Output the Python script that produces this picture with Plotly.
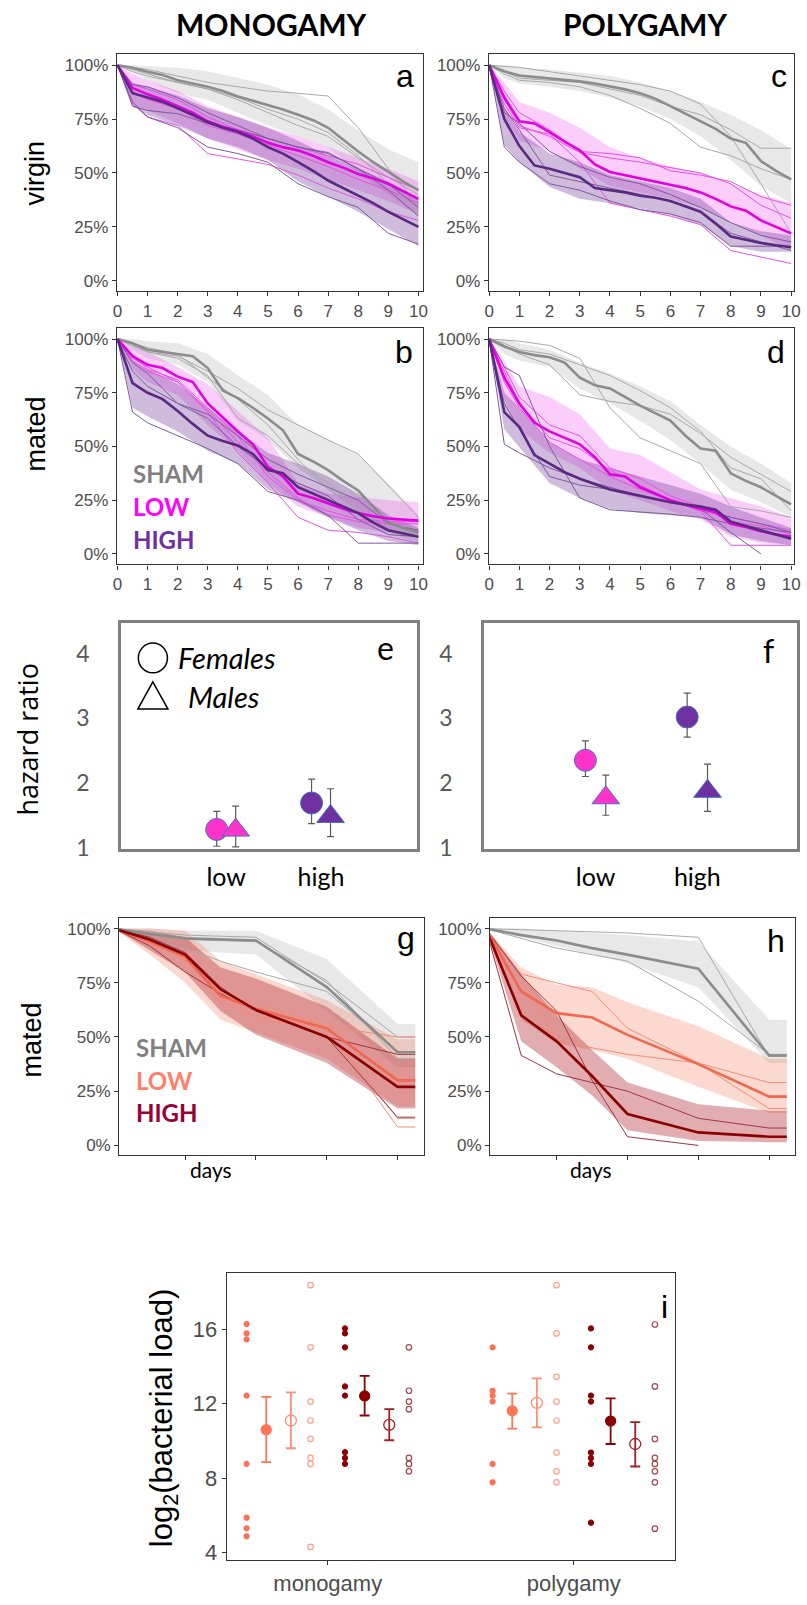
import plotly.graph_objects as go

W, H = 807, 1605

# ---------------- data ----------------
T_HALF = [0, 0.5, 1, 1.5, 2, 2.5, 3, 3.5, 4, 4.5, 5, 5.5, 6, 6.5, 7, 7.5, 8, 8.5, 9, 9.5, 10]
T_COARSE = [0, 0.5, 1, 2, 3, 4, 5, 6, 7, 8, 9, 10]
T_GH = [0, 0.5, 1, 1.5, 2, 3, 4, 4.25]

# panel a : monogamy, virgin
A_SHAM_MEAN = [100, 98.8, 97, 95.5, 93, 91.5, 90, 88, 85.5, 83.5, 81.5, 79.5, 77, 74.5, 71, 65.5, 60, 55, 50.5, 46, 42]
A_LOW_MEAN = [100, 89.5, 86.5, 84, 81, 78, 74, 71.5, 69.5, 67, 64, 62, 60.5, 58, 55, 52.5, 49.5, 47.5, 45, 41.5, 38]
A_HIGH_MEAN = [100, 87, 85, 83, 80, 77, 73.5, 71, 69, 66, 62, 59, 55, 51, 46.5, 43, 39.5, 36, 32, 28.5, 25]
A_SHAM_UP = [100, 100, 99.5, 98.8, 97.2, 94.2, 91, 86.5, 79.6, 69.6, 61, 55]
A_SHAM_LO = [100, 97, 93, 87, 84, 78, 72, 67, 62, 50, 40, 30]
A_LOW_UP = [100, 96, 93, 88, 81, 76, 71, 67, 62, 57, 52, 46]
A_LOW_LO = [100, 82, 79, 73, 66, 61, 56, 52, 47, 42, 37, 31]
A_HIGH_UP = [100, 92, 90, 86, 80, 76, 71, 65, 58, 52, 46, 38]
A_HIGH_LO = [100, 81, 77, 72, 66, 62, 56, 46, 39, 32, 24, 16]
A_SHAM_REPS = [[100, 99, 98, 95, 92, 90, 88, 87, 85.7, 71, 52, 35],
               [100, 98, 96, 92, 89, 85, 79.6, 75, 68.8, 58, 45, 33],
               [100, 97, 95, 92, 89, 84, 78, 72, 67, 57, 48, 40]]
A_LOW_REPS = [[100, 91, 89, 84, 76, 70, 66, 62, 58, 54, 48, 42],
              [100, 88, 84, 80, 72, 68, 63, 58, 53, 47, 42, 36],
              [100, 82, 76, 72, 59, 56.5, 54, 49, 43, 38, 32, 28]]
A_HIGH_REPS = [[100, 91, 90, 85, 78, 72, 66, 62, 59, 52, 45, 34],
               [100, 81, 79, 77.5, 73, 70, 66, 62, 59.5, 52, 42, 30],
               [100, 83, 76, 71, 62, 59, 55, 45, 39, 34, 22, 17]]

# panel b : monogamy, mated
B_SHAM_MEAN = [100, 98, 95, 94, 93, 92, 86.5, 76, 72.5, 68, 63, 57.5, 46.5, 43, 39, 34, 29.5, 22, 14.5, 12, 10]
B_LOW_MEAN = [100, 92, 88, 86.5, 82.5, 80, 70, 63.5, 57, 51, 40.5, 36, 28, 26, 23.5, 21, 19, 17.5, 16.5, 16, 15.5]
B_HIGH_MEAN = [100, 79.5, 75, 72, 66.5, 60.5, 55, 52.5, 50.5, 46.5, 39, 37.5, 31, 28, 25, 22, 19, 14.5, 11, 9.5, 8]
B_SHAM_UP = [100, 100, 99, 98, 93, 83, 74, 60, 53, 46, 33, 18]
B_SHAM_LO = [100, 95, 91, 88, 80, 62, 53, 40, 30, 20, 10, 5]
B_LOW_UP = [100, 97, 94, 87, 79, 66.5, 54, 33, 28, 26.5, 25, 24]
B_LOW_LO = [100, 86, 80, 74, 60, 48, 33, 22, 17, 12, 10, 9]
B_HIGH_UP = [100, 90, 86, 79, 68, 57, 47, 42, 36, 28, 18, 12]
B_HIGH_LO = [100, 68, 64, 57, 48, 42, 30, 24, 17, 11, 6, 4]
B_SHAM_REPS = [[100, 97, 94, 92, 85, 77, 67, 60, 53, 46.5, 32, 17],
               [100, 97, 94, 91, 83, 63, 55, 42, 33, 20, 11, 10],
               [100, 98, 96, 93, 82, 72, 60, 44, 30, 20, 14, 8]]
B_LOW_REPS = [[100, 91, 87, 80, 67, 52, 38, 26, 18, 15, 14, 14],
              [100, 92, 86, 81, 68, 55, 36, 25, 20, 16, 15, 15],
              [100, 90, 85, 80, 66, 47, 33, 17, 11, 10, 8, 5]]
B_HIGH_REPS = [[100, 66, 61, 55, 49, 42, 29, 25, 18, 5, 5, 5],
               [100, 89, 84, 70, 63, 50, 40, 33, 27, 16, 9, 8],
               [100, 85, 78, 70, 65, 55, 44, 37, 31, 25, 14, 11]]

# panel c : polygamy, virgin
C_SHAM_MEAN = [100, 97.2, 95.2, 94.5, 94, 93.3, 92.5, 91.5, 90.3, 88.8, 87, 84.5, 81, 77.5, 74, 70.5, 66, 64, 55.5, 51, 47]
C_LOW_MEAN = [100, 85, 74, 73, 69, 64.5, 60.5, 54, 50.5, 49, 47.5, 46, 44.5, 43, 41, 38, 34.5, 32.5, 28, 25, 22]
C_HIGH_MEAN = [100, 75, 62.5, 53.5, 52, 50, 48, 43, 42, 41, 39.5, 38.5, 37, 34.5, 32, 26.5, 20.5, 19, 17.5, 16.5, 15.5]
C_SHAM_UP = [100, 100, 99, 98, 96.5, 95, 92, 88, 83, 77, 70, 61]
C_SHAM_LO = [100, 94, 91.5, 90, 88, 85, 81, 75, 67, 56, 44, 36]
C_LOW_UP = [100, 92, 83, 78, 71, 62, 57, 53, 50, 45, 40, 36]
C_LOW_LO = [100, 76, 65, 60, 52, 44, 41, 38, 34, 27, 21, 14]
C_HIGH_UP = [100, 80, 69, 59, 55, 49, 46, 43, 38, 27, 23, 21]
C_HIGH_LO = [100, 63, 55, 43.5, 38, 36, 33.5, 30.5, 26, 16, 13.5, 13.5]
C_SHAM_REPS = [[100, 99.5, 99, 97, 95, 93, 91, 88, 82, 67, 45, 22],
               [100, 96, 93, 92, 90, 86, 80, 73, 62, 58, 52, 47],
               [100, 97, 94, 93, 92, 89, 86, 81, 77, 70, 61.5, 61.5]]
C_LOW_REPS = [[100, 88, 78, 70, 60, 59, 57, 51, 49, 46, 39, 35],
              [100, 84, 72, 67, 59.5, 57, 55, 52.5, 50, 45, 35, 29],
              [100, 82, 71, 68, 55, 36, 33, 30, 26, 14, 11, 8]]
C_HIGH_REPS = [[100, 62, 55, 45, 42, 37, 33, 31, 27, 16, 16, 16],
               [100, 80, 70, 49, 46, 43, 40, 37, 32, 22, 18, 14],
               [100, 78, 73, 60, 53, 48, 45, 40, 34, 27, 21, 18]]

# panel d : polygamy, mated
D_SHAM_MEAN = [100, 96.5, 94, 92.5, 91.5, 89, 82, 78.5, 77, 73, 69, 65.5, 62, 55, 49, 48, 37.5, 34, 31, 27, 23]
D_LOW_MEAN = [100, 82, 70, 61, 57, 54, 51, 45, 37, 36, 31, 28, 25, 23, 21, 19.5, 14, 12.5, 10.5, 9, 8]
D_HIGH_MEAN = [100, 66, 59, 46, 42, 38, 35, 32.5, 30, 28.5, 27, 25.5, 24, 23, 22, 20.5, 15, 13, 11, 9, 7]
D_SHAM_UP = [100, 100, 98, 95, 89, 84, 78, 71, 60, 50, 42, 33]
D_SHAM_LO = [100, 93, 90, 87, 77, 70, 62, 53, 42, 30, 24, 17]
D_LOW_UP = [100, 90, 78, 73, 65, 49, 46, 38, 30, 26, 22, 17]
D_LOW_LO = [100, 72, 58, 47, 40, 30, 25, 20, 16, 8, 5, 4]
D_HIGH_UP = [100, 75, 68, 52, 44, 40, 36, 32, 28, 22, 17, 12]
D_HIGH_LO = [100, 58, 50, 33, 26, 21, 19, 18, 17, 9, 6, 4]
D_SHAM_REPS = [[100, 99.5, 99, 97, 91, 68, 54, 48, 42, 22, 20, 17],
               [100, 97, 93, 88, 74, 71, 69, 65, 56, 45, 37, 29],
               [100, 98, 95, 93, 88, 83, 76, 68, 57, 40, 35, 20]]
D_LOW_REPS = [[100, 87, 73, 60, 55, 40, 35, 27, 22, 15, 13, 9],
              [100, 85, 70, 54, 49, 39, 32, 25, 20, 4, 4, 4],
              [100, 80, 68, 52, 44, 36, 30, 25, 20, 17, 14, 11]]
D_HIGH_REPS = [[100, 51, 47, 40, 35, 31, 27, 24, 21, 10, 0, None],
               [100, 87, 83, 50, 26, 20.5, 19.5, 18.5, 17, 14, 12, 10],
               [100, 70, 58, 36, 32, 30, 27, 24, 21, 17, 14, 10]]

# panel g : monogamy, mated (days)
G_SHAM_MEAN = [100, 97.5, 95.5, 95, 94.5, 73, 43, 43]
G_SHAM_UP = [100, 100, 99, 99, 99, 86, 56, 56]
G_SHAM_LO = [100, 96, 90, 89, 88, 62, 36, 36]
G_LOW_MEAN = [100, 94, 87, 69, 63, 54, 30, 30]
G_LOW_UP = [100, 100, 99, 85, 79, 67, 49, 49]
G_LOW_LO = [100, 88, 75, 58, 52, 40, 18, 18]
G_HIGH_MEAN = [100, 95, 88, 72, 62.5, 50, 27, 27]
G_HIGH_UP = [100, 99, 96, 82, 77, 64, 40, 40]
G_HIGH_LO = [100, 90, 80, 62, 51, 38, 17, 17]
G_SHAM_REPS = [[100, 98.5, 97, 96.5, 96, 75, 50, 50],
               [100, 95, 91, 85, 80, 71, 43, 43],
               [100, 97, 95, 94.5, 94, 76, 40, 40]]
G_LOW_REPS = [[100, 95, 85, 68, 66, 55, 50, 50],
              [100, 95, 86, 70, 58, 54, 8.5, 8.5],
              [100, 93, 82, 66, 60, 54, 12.5, 12.5]]
G_HIGH_REPS = [[100, 92, 80, 70, 62, 50, 42, 42],
               [100, 96, 89, 73, 62, 50, 13, 13]]

# panel h : polygamy, mated (days)
H_SHAM_MEAN = [100, 97, 94.5, 91, 88, 81.5, 41.5, 41.5]
H_SHAM_UP = [100, 100, 99, 98, 97, 94, 58, 58]
H_SHAM_LO = [100, 96, 92, 88, 84, 73, 38, 38]
H_LOW_MEAN = [100, 71, 61, 59, 51, 37.5, 22.5, 22.5]
H_LOW_UP = [100, 82, 74, 73, 66, 55, 40, 40]
H_LOW_LO = [100, 58, 47, 44, 40, 27, 15, 15]
H_HIGH_MEAN = [100, 60, 48, 32, 14.5, 6, 4, 4]
H_HIGH_UP = [100, 79, 60, 44, 29, 19, 16, 16]
H_HIGH_LO = [100, 48, 36, 23, 7, 2, 1.5, 1.5]
H_SHAM_REPS = [[100, 99.5, 99, 98.5, 98, 96, 41, 41],
               [100, 95.5, 91, 88, 85, 66.5, 42, 42]]
H_LOW_REPS = [[100, 79, 75, 71, 54, 38, 17, 17],
              [100, 78, 48, 45, 42, 38, 29, 29]]
H_HIGH_REPS = [[100, 41.5, 33, 29, 25, 12.5, 8, 8],
               [100, 78, 62, 30, 4, 0, None, None]]

# panels e, f : hazard ratios (low, high)
HR_DOSE = ["low", "high"]
E_FEMALE = [1.28, 1.69]
E_FEMALE_LO = [1.02, 1.37]
E_FEMALE_HI = [1.56, 2.06]
E_MALE = [1.27, 1.48]
E_MALE_LO = [1.01, 1.17]
E_MALE_HI = [1.64, 1.91]
F_FEMALE = [2.35, 3.02]
F_FEMALE_LO = [2.10, 2.71]
F_FEMALE_HI = [2.65, 3.39]
F_MALE = [1.77, 1.87]
F_MALE_LO = [1.50, 1.56]
F_MALE_HI = [2.12, 2.29]

# panel i : bacterial load
I_SYSTEMS = ["monogamy", "polygamy"]
I_MONO_LOW_F = [16.27, 15.77, 15.45, 12.43, 8.76, 5.87, 5.30, 4.87]
I_MONO_LOW_M = [18.36, 15.02, 12.11, 11.09, 10.10, 9.08, 8.76, 4.30]
I_MONO_HIGH_F = [16.04, 15.77, 15.02, 12.92, 12.43, 9.39, 9.08, 8.76]
I_MONO_HIGH_M = [15.02, 12.69, 12.11, 11.70, 9.08, 8.76, 8.36]
I_POLY_LOW_F = [15.02, 12.69, 12.43, 12.11, 8.76, 7.77]
I_POLY_LOW_M = [18.36, 15.77, 13.44, 12.11, 11.09, 9.37, 8.36, 7.77]
I_POLY_HIGH_F = [16.04, 15.02, 12.43, 12.11, 9.37, 9.08, 8.76, 5.60]
I_POLY_HIGH_M = [16.25, 12.92, 10.10, 9.08, 8.76, 8.36, 7.77, 5.28]
I_LOW_F_MEAN = [10.60, 11.61]
I_LOW_F_LO = [8.85, 10.65]
I_LOW_F_HI = [12.36, 12.53]
I_LOW_M_MEAN = [11.09, 12.04]
I_LOW_M_LO = [9.60, 10.72]
I_LOW_M_HI = [12.60, 13.35]
I_HIGH_F_MEAN = [12.41, 11.06]
I_HIGH_F_LO = [11.36, 9.83]
I_HIGH_F_HI = [13.49, 12.28]
I_HIGH_M_MEAN = [10.86, 9.83]
I_HIGH_M_LO = [10.03, 8.62]
I_HIGH_M_HI = [11.70, 11.00]

# ---------------- styling ----------------
ARIAL = "Liberation Sans, Arial, sans-serif"
CALIBRI = "Lato, Open Sans, sans-serif"
WIDE = "Open Sans, Lato, sans-serif"
TICK_GRAY = "#4D4D4D"

SHAM_STYLE = dict(line="#8C8C8C", rep="#A8A8A8", fill="rgba(165,165,165,0.26)")
LOW_STYLE = dict(line="#E400E4", rep="#E650E6", fill="rgba(240,60,240,0.26)")
HIGH_STYLE = dict(line="#5A2A82", rep="#7E5A9C", fill="rgba(110,50,150,0.33)")
GLOW_STYLE = dict(line="#F0684E", rep="#F28C78", fill="rgba(245,130,100,0.30)")
GHIGH_STYLE = dict(line="#8B0000", rep="#9C3545", fill="rgba(175,40,50,0.38)")

# panel boxes in pixels: left, right, top, bottom
BOX = {
    "a": (114.3, 424, 54.3, 293.3), "c": (491, 800, 54.3, 293.3),
    "b": (114.3, 424, 330, 568.3), "d": (491, 800, 330, 568.3),
    "e": (118.3, 418, 627.7, 855), "f": (486, 803, 627.7, 855),
    "g": (116.7, 425, 924, 1163), "h": (492.3, 801, 924, 1163),
    "i": (225.7, 679, 1281.7, 1570.7),
}
AX = {"a": 1, "b": 2, "c": 3, "d": 4, "e": 5, "f": 6, "g": 7, "h": 8, "i": 9}


def X(p):
    return p / W


def Y(p):
    return 1 - p / H


fig = go.Figure()


def axref(k):
    n = AX[k]
    return ("x" if n == 1 else f"x{n}"), ("y" if n == 1 else f"y{n}")


def add_group(k, t_mean, mean, t_band, up, lo, t_rep, reps, st, layer):
    xa, ya = axref(k)
    if layer == "band":
        fig.add_trace(go.Scatter(x=list(t_band) + list(t_band)[::-1], y=list(up) + list(lo)[::-1],
                                 fill="toself", fillcolor=st["fill"], line=dict(width=0),
                                 mode="lines", hoverinfo="skip", xaxis=xa, yaxis=ya))
    elif layer == "reps":
        for r in reps:
            fig.add_trace(go.Scatter(x=t_rep, y=r, mode="lines", line=dict(color=st["rep"], width=1),
                                     xaxis=xa, yaxis=ya, connectgaps=False))
    else:
        fig.add_trace(go.Scatter(x=t_mean, y=mean, mode="lines", line=dict(color=st["line"], width=2.6),
                                 xaxis=xa, yaxis=ya))


SURV = {
    "a": [(A_SHAM_MEAN, A_SHAM_UP, A_SHAM_LO, A_SHAM_REPS, SHAM_STYLE),
          (A_LOW_MEAN, A_LOW_UP, A_LOW_LO, A_LOW_REPS, LOW_STYLE),
          (A_HIGH_MEAN, A_HIGH_UP, A_HIGH_LO, A_HIGH_REPS, HIGH_STYLE)],
    "b": [(B_SHAM_MEAN, B_SHAM_UP, B_SHAM_LO, B_SHAM_REPS, SHAM_STYLE),
          (B_LOW_MEAN, B_LOW_UP, B_LOW_LO, B_LOW_REPS, LOW_STYLE),
          (B_HIGH_MEAN, B_HIGH_UP, B_HIGH_LO, B_HIGH_REPS, HIGH_STYLE)],
    "c": [(C_SHAM_MEAN, C_SHAM_UP, C_SHAM_LO, C_SHAM_REPS, SHAM_STYLE),
          (C_LOW_MEAN, C_LOW_UP, C_LOW_LO, C_LOW_REPS, LOW_STYLE),
          (C_HIGH_MEAN, C_HIGH_UP, C_HIGH_LO, C_HIGH_REPS, HIGH_STYLE)],
    "d": [(D_SHAM_MEAN, D_SHAM_UP, D_SHAM_LO, D_SHAM_REPS, SHAM_STYLE),
          (D_LOW_MEAN, D_LOW_UP, D_LOW_LO, D_LOW_REPS, LOW_STYLE),
          (D_HIGH_MEAN, D_HIGH_UP, D_HIGH_LO, D_HIGH_REPS, HIGH_STYLE)],
}
SURV_GH = {
    "g": [(G_SHAM_MEAN, G_SHAM_UP, G_SHAM_LO, G_SHAM_REPS, SHAM_STYLE),
          (G_LOW_MEAN, G_LOW_UP, G_LOW_LO, G_LOW_REPS, GLOW_STYLE),
          (G_HIGH_MEAN, G_HIGH_UP, G_HIGH_LO, G_HIGH_REPS, GHIGH_STYLE)],
    "h": [(H_SHAM_MEAN, H_SHAM_UP, H_SHAM_LO, H_SHAM_REPS, SHAM_STYLE),
          (H_LOW_MEAN, H_LOW_UP, H_LOW_LO, H_LOW_REPS, GLOW_STYLE),
          (H_HIGH_MEAN, H_HIGH_UP, H_HIGH_LO, H_HIGH_REPS, GHIGH_STYLE)],
}

for k, groups in SURV.items():
    for layer in ("band", "reps", "mean"):
        for mean, up, lo, reps, st in groups:
            add_group(k, T_HALF, mean, T_COARSE, up, lo, T_COARSE, reps, st, layer)
for k, groups in SURV_GH.items():
    for layer in ("band", "reps", "mean"):
        for mean, up, lo, reps, st in groups:
            add_group(k, T_GH, mean, T_GH, up, lo, T_GH, reps, st, layer)

# ---- hazard ratio panels ----
HR_OFF = 0.1
PINK, PURPLE, OUTL = "#FF33CC", "#7030A0", "#4472C4"
for k, fem, flo, fhi, mal, mlo, mhi in (("e", E_FEMALE, E_FEMALE_LO, E_FEMALE_HI, E_MALE, E_MALE_LO, E_MALE_HI),
                                        ("f", F_FEMALE, F_FEMALE_LO, F_FEMALE_HI, F_MALE, F_MALE_LO, F_MALE_HI)):
    xa, ya = axref(k)
    pos = [i + 1 for i in range(len(HR_DOSE))]
    fig.add_trace(go.Scatter(
        x=[p - HR_OFF for p in pos], y=fem, mode="markers",
        marker=dict(symbol="circle", size=22, color=[PINK, PURPLE], line=dict(color=OUTL, width=1)),
        error_y=dict(type="data", array=[h - v for h, v in zip(fhi, fem)],
                     arrayminus=[v - l for v, l in zip(fem, flo)], color="#595959", thickness=1.2, width=3.5),
        xaxis=xa, yaxis=ya))
    fig.add_trace(go.Scatter(
        x=[p + HR_OFF for p in pos], y=mal, mode="markers",
        marker=dict(symbol="triangle-up", size=24, color=[PINK, PURPLE], line=dict(color=OUTL, width=1)),
        error_y=dict(type="data", array=[h - v for h, v in zip(mhi, mal)],
                     arrayminus=[v - l for v, l in zip(mal, mlo)], color="#595959", thickness=1.2, width=3.5),
        xaxis=xa, yaxis=ya))

# ---- bacterial load panel ----
xa, ya = axref("i")
I_LOWF_C, I_LOWM_C, I_HIGHF_C, I_HIGHM_C = "#FF7052", "#FF9F8C", "#8B0000", "#A5474C"
I_MLOWF_C, I_MLOWM_C, I_MHIGHF_C, I_MHIGHM_C = "#FF7555", "#FF8C74", "#8B0000", "#A02028"
RAW = [
    (I_MONO_LOW_F, I_POLY_LOW_F, -0.33, I_LOWF_C, "circle"),
    (I_MONO_LOW_M, I_POLY_LOW_M, -0.07, I_LOWM_C, "circle-open"),
    (I_MONO_HIGH_F, I_POLY_HIGH_F, 0.07, I_HIGHF_C, "circle"),
    (I_MONO_HIGH_M, I_POLY_HIGH_M, 0.33, I_HIGHM_C, "circle-open"),
]
for mono, poly, off, col, sym in RAW:
    xs = [1 + off] * len(mono) + [2 + off] * len(poly)
    fig.add_trace(go.Scatter(x=xs, y=mono + poly, mode="markers",
                             marker=dict(symbol=sym, size=5 if sym == "circle" else 5.5, color=col,
                                         line=dict(color=col, width=1.2)),
                             xaxis=xa, yaxis=ya))
MEANS = [
    (I_LOW_F_MEAN, I_LOW_F_LO, I_LOW_F_HI, -0.25, I_MLOWF_C, "circle"),
    (I_LOW_M_MEAN, I_LOW_M_LO, I_LOW_M_HI, -0.15, I_MLOWM_C, "circle-open"),
    (I_HIGH_F_MEAN, I_HIGH_F_LO, I_HIGH_F_HI, 0.15, I_MHIGHF_C, "circle"),
    (I_HIGH_M_MEAN, I_HIGH_M_LO, I_HIGH_M_HI, 0.25, I_MHIGHM_C, "circle-open"),
]
for m, lo, hi, off, col, sym in MEANS:
    fig.add_trace(go.Scatter(
        x=[i + 1 + off for i in range(len(I_SYSTEMS))], y=m, mode="markers",
        marker=dict(symbol=sym, size=10 if sym == "circle" else 11, color=col, line=dict(color=col, width=1.3)),
        error_y=dict(type="data", array=[h - v for h, v in zip(hi, m)], arrayminus=[v - l for v, l in zip(m, lo)],
                     color=col, thickness=1.8, width=5),
        xaxis=xa, yaxis=ya))

# ---------------- axes ----------------
layout = dict(width=W, height=H, margin=dict(l=0, r=0, t=0, b=0), showlegend=False,
              plot_bgcolor="white", paper_bgcolor="white")

BOXLINE = dict(showline=True, mirror=True, linecolor="#333333", linewidth=1.3, showgrid=False, zeroline=False)
TICKS = dict(ticks="outside", ticklen=4, tickcolor="#333333", tickwidth=1,
             tickfont=dict(family=ARIAL, size=17, color=TICK_GRAY))

for k in ("a", "b", "c", "d", "g", "h"):
    l, r, t, b = BOX[k]
    n = AX[k]
    xk = "xaxis" if n == 1 else f"xaxis{n}"
    yk = "yaxis" if n == 1 else f"yaxis{n}"
    if k in ("g", "h"):
        x0 = -(BOX[k][0] - (121.7 if k == "g" else 496.7)) / 71.7
        xr = [x0, x0 + (r - l) / 71.7]
        xt = dict(tickvals=[0, 1, 2, 3, 4], showticklabels=False)
        yr = [-4.44, 105.04]
    else:
        ppd = 30.47 if k in ("a", "b") else 30.57
        x0 = -0.02 if k in ("a", "b") else -0.01
        xr = [x0, x0 + (r - l) / ppd]
        xt = dict(tickvals=list(range(11)))
        yr = [-4.9, 105.25]
    layout[xk] = dict(domain=[X(l), X(r)], range=xr, anchor=("y" if n == 1 else f"y{n}"), **BOXLINE, **TICKS, **xt)
    layout[yk] = dict(domain=[Y(b), Y(t)], range=yr, anchor=("x" if n == 1 else f"x{n}"), **BOXLINE, **TICKS,
                      tickvals=[0, 25, 50, 75, 100], ticktext=["0%", "25%", "50%", "75%", "100%"])

HR_FONT = dict(family=CALIBRI, size=23, color="#595959")
for k, xr in (("e", [-0.111, 3.01]), ("f", [-0.097, 2.98])):
    l, r, t, b = BOX[k]
    n = AX[k]
    layout[f"xaxis{n}"] = dict(domain=[X(l), X(r)], range=xr, anchor=f"y{n}", showline=True, mirror=True,
                               linecolor="#808080", linewidth=2.5, showgrid=False, zeroline=False, ticks="",
                               tickvals=[1, 2], ticktext=HR_DOSE, ticklabelstandoff=4,
                               tickfont=dict(family=CALIBRI, size=25, color="black"))
    layout[f"yaxis{n}"] = dict(domain=[Y(b), Y(t)], range=[0.975, 4.47], anchor=f"x{n}", showline=True,
                               mirror=True, linecolor="#808080", linewidth=2.5, showgrid=False, zeroline=False,
                               ticks="", tickvals=[1, 2, 3, 4], tickfont=HR_FONT, ticklabelstandoff=24)

l, r, t, b = BOX["i"]
layout["xaxis9"] = dict(domain=[X(l), X(r)], range=[0.59, 2.41], anchor="y9", **BOXLINE, ticks="outside",
                        ticklen=4, tickcolor="#333333", tickvals=[1, 2], ticktext=I_SYSTEMS,
                        tickfont=dict(family=ARIAL, size=22, color=TICK_GRAY))
layout["yaxis9"] = dict(domain=[Y(b), Y(t)], range=[3.6, 19.02], anchor="x9", **BOXLINE, ticks="outside",
                        ticklen=4, tickcolor="#333333", tickvals=[4, 8, 12, 16],
                        tickfont=dict(family=ARIAL, size=22, color=TICK_GRAY))
fig.update_layout(**layout)

# ---------------- annotations ----------------
ann = []


def txt(text, x, y, size, family=ARIAL, color="black", xanchor="center", angle=0, bold=False, italic=False):
    f = dict(family=family, size=size, color=color)
    if bold:
        f["weight"] = "bold"
    if italic:
        f["style"] = "italic"
    ann.append(dict(text=text, x=X(x), y=Y(y), xref="paper", yref="paper", showarrow=False, xanchor=xanchor,
                    yanchor="middle", textangle=angle, font=f))


txt("MONOGAMY", 271, 24, 30, CALIBRI, bold=True)
txt("POLYGAMY", 649, 24, 30, CALIBRI, bold=True)
txt("virgin", 31, 174, 27, angle=-90)
txt("mated", 32, 437, 27, angle=-90)
txt("hazard ratio", 24, 744, 27, WIDE, angle=-90)
txt("mated", 28, 1047, 27, angle=-90)
txt("log<sub>2</sub>(bacterial load)", 162, 1428, 31, angle=-90)
for letter, x, y in (("a", 406, 77), ("c", 785, 77), ("b", 405, 354), ("d", 782, 354),
                     ("g", 407, 944), ("h", 782, 947), ("i", 669, 1316)):
    txt(letter, x, y, 32)
txt("e", 386, 652, 32, CALIBRI)
txt("f", 774, 655, 32, CALIBRI)
# legends
for label, y, col in (("SHAM", 477, "#808080"), ("LOW", 510, "#FF00FF"), ("HIGH", 543, "#7030A0")):
    txt(label, 129, y, 24, CALIBRI, color=col, xanchor="left", bold=True)
for label, y, col in (("SHAM", 1055, "#808080"), ("LOW", 1088, "#FF7F6A"), ("HIGH", 1120, "#990033")):
    txt(label, 132, y, 24, CALIBRI, color=col, xanchor="left", bold=True)
txt("Females", 174, 662, 29, CALIBRI, xanchor="left", italic=True)
txt("Males", 184, 701, 29, CALIBRI, xanchor="left", italic=True)
txt("days", 210, 1178, 21, CALIBRI)
txt("days", 594, 1178, 21, CALIBRI)

shapes = [
    dict(type="circle", xref="paper", yref="paper", x0=X(136), x1=X(165.5), y0=Y(677.5), y1=Y(647.5),
         line=dict(color="black", width=1.5)),
    dict(type="path", xref="paper", yref="paper",
         path=f"M {X(150.7)} {Y(686.5)} L {X(166)} {Y(714)} L {X(135.5)} {Y(714)} Z",
         line=dict(color="black", width=1.5)),
]
fig.update_layout(annotations=ann, shapes=shapes)

fig.write_html("out.html", config={"displayModeBar": False},
               post_script="document.body.style.margin='0px';")
